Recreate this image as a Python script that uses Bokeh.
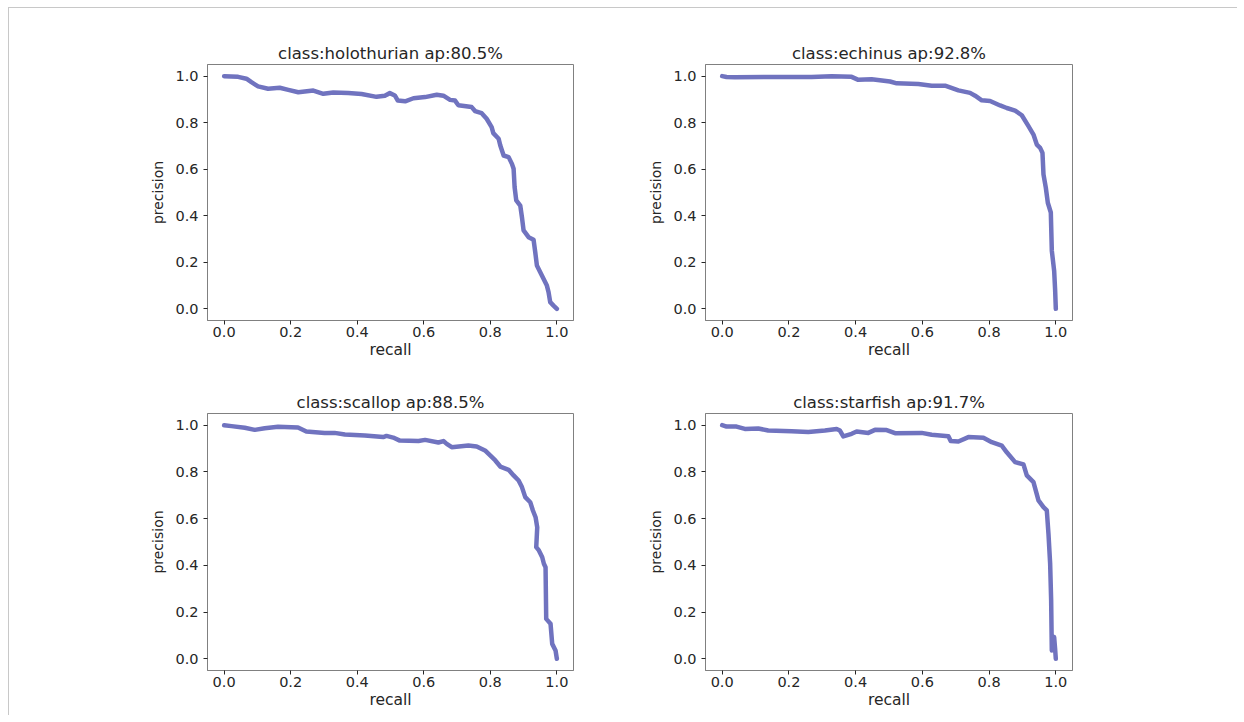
from bokeh.plotting import figure
from bokeh.layouts import column, row
from bokeh.models import Range1d, FixedTicker, NumeralTickFormatter
from bokeh.embed import file_html
from bokeh.resources import INLINE

classes = ["holothurian", "echinus", "scallop", "starfish"]
aps = [80.5, 92.8, 88.5, 91.7]

holothurian_recall = [0.0, 0.042, 0.067, 0.082, 0.102, 0.132, 0.167, 0.193, 0.223, 0.268, 0.298, 0.328, 0.373, 0.413, 0.458, 0.483, 0.498, 0.513, 0.522, 0.544, 0.569, 0.604, 0.639, 0.659, 0.679, 0.694, 0.704, 0.744, 0.754, 0.774, 0.789, 0.804, 0.809, 0.825, 0.830, 0.840, 0.855, 0.865, 0.870, 0.873, 0.878, 0.890, 0.895, 0.900, 0.915, 0.930, 0.935, 0.940, 0.955, 0.970, 0.975, 0.980, 0.990, 1.0]
holothurian_precision = [1.0, 0.997, 0.989, 0.974, 0.956, 0.946, 0.950, 0.941, 0.931, 0.938, 0.924, 0.930, 0.928, 0.923, 0.911, 0.916, 0.927, 0.917, 0.895, 0.892, 0.905, 0.910, 0.920, 0.916, 0.898, 0.895, 0.875, 0.867, 0.850, 0.841, 0.817, 0.781, 0.755, 0.731, 0.702, 0.659, 0.652, 0.623, 0.602, 0.523, 0.466, 0.444, 0.394, 0.337, 0.308, 0.297, 0.244, 0.186, 0.143, 0.100, 0.072, 0.029, 0.014, 0.0]

echinus_recall = [0.0, 0.013, 0.038, 0.138, 0.268, 0.328, 0.388, 0.408, 0.448, 0.503, 0.523, 0.588, 0.628, 0.668, 0.708, 0.743, 0.758, 0.778, 0.803, 0.833, 0.853, 0.878, 0.898, 0.918, 0.933, 0.943, 0.953, 0.960, 0.963, 0.970, 0.976, 0.985, 0.988, 0.995, 0.998, 1.0]
echinus_precision = [1.0, 0.996, 0.995, 0.996, 0.996, 1.0, 0.997, 0.984, 0.987, 0.977, 0.969, 0.966, 0.959, 0.959, 0.939, 0.928, 0.916, 0.896, 0.893, 0.874, 0.863, 0.852, 0.832, 0.785, 0.749, 0.706, 0.692, 0.670, 0.578, 0.521, 0.456, 0.414, 0.250, 0.164, 0.078, 0.0]

scallop_recall = [0.0, 0.022, 0.062, 0.092, 0.122, 0.162, 0.222, 0.247, 0.302, 0.332, 0.363, 0.423, 0.478, 0.488, 0.508, 0.528, 0.584, 0.604, 0.644, 0.659, 0.669, 0.684, 0.734, 0.759, 0.784, 0.805, 0.815, 0.830, 0.855, 0.870, 0.885, 0.895, 0.905, 0.920, 0.928, 0.936, 0.941, 0.938, 0.946, 0.956, 0.961, 0.966, 0.968, 0.981, 0.986, 0.996, 1.0]
scallop_precision = [1.0, 0.996, 0.989, 0.980, 0.987, 0.993, 0.990, 0.973, 0.967, 0.967, 0.960, 0.956, 0.949, 0.954, 0.947, 0.934, 0.932, 0.937, 0.926, 0.932, 0.920, 0.906, 0.913, 0.909, 0.892, 0.863, 0.849, 0.823, 0.809, 0.785, 0.763, 0.735, 0.692, 0.670, 0.635, 0.606, 0.563, 0.478, 0.464, 0.435, 0.407, 0.392, 0.171, 0.150, 0.064, 0.036, 0.0]

starfish_recall = [0.0, 0.013, 0.043, 0.068, 0.108, 0.138, 0.208, 0.258, 0.308, 0.343, 0.353, 0.363, 0.388, 0.403, 0.438, 0.458, 0.493, 0.518, 0.598, 0.628, 0.678, 0.685, 0.708, 0.738, 0.783, 0.808, 0.838, 0.853, 0.878, 0.903, 0.913, 0.933, 0.948, 0.963, 0.973, 0.978, 0.983, 0.986, 0.988, 0.995, 0.998, 1.0]
starfish_precision = [1.0, 0.994, 0.994, 0.984, 0.986, 0.977, 0.974, 0.971, 0.977, 0.984, 0.977, 0.952, 0.963, 0.973, 0.967, 0.980, 0.979, 0.966, 0.967, 0.959, 0.953, 0.932, 0.930, 0.949, 0.946, 0.927, 0.912, 0.884, 0.842, 0.832, 0.785, 0.756, 0.678, 0.649, 0.635, 0.535, 0.407, 0.250, 0.036, 0.093, 0.040, 0.0]

tick_values = [0.0, 0.2, 0.4, 0.6, 0.8, 1.0]

recalls = [holothurian_recall, echinus_recall, scallop_recall, starfish_recall]
precisions = [holothurian_precision, echinus_precision, scallop_precision, starfish_precision]

LINE = "#7073bf"
TEXT = "#262626"
SPINE = "#808080"
FONT = "DejaVu Sans"


def make(i, width, height, bl, br, bt, bb):
    p = figure(width=width, height=height, output_backend="svg", toolbar_location=None,
               x_range=Range1d(-0.05, 1.05), y_range=Range1d(-0.05, 1.05),
               min_border_left=bl, min_border_right=br, min_border_top=bt, min_border_bottom=bb,
               title="class:%s ap:%.1f%%" % (classes[i], aps[i]))
    p.line(recalls[i], precisions[i], line_color=LINE, line_width=4.5, line_join="round", line_cap="round")
    p.title.align = "center"
    p.title.text_font = FONT
    p.title.text_font_size = "16.5px"
    p.title.text_font_style = "normal"
    p.title.text_color = TEXT
    p.title.standoff = 4
    p.xgrid.visible = False
    p.ygrid.visible = False
    p.outline_line_color = SPINE
    p.outline_line_width = 1
    p.outline_line_alpha = 1
    for ax, lab in ((p.xaxis[0], "recall"), (p.yaxis[0], "precision")):
        ax.axis_label = lab
        ax.ticker = FixedTicker(ticks=tick_values)
        ax.formatter = NumeralTickFormatter(format="0.0")
        ax.minor_tick_line_color = None
        ax.major_tick_in = 0
        ax.major_tick_out = 4
        ax.major_tick_line_color = TEXT
        ax.axis_line_color = SPINE
        ax.major_label_text_font = FONT
        ax.major_label_text_font_size = "14.5px"
        ax.major_label_text_color = TEXT
        ax.axis_label_text_font = FONT
        ax.axis_label_text_font_style = "normal"
        ax.axis_label_text_color = TEXT
    p.xaxis[0].axis_label_text_font_size = "15.5px"
    p.yaxis[0].axis_label_text_font_size = "14px"
    p.xaxis[0].major_label_standoff = 2
    p.xaxis[0].axis_label_standoff = 1
    p.yaxis[0].major_label_standoff = 5
    p.yaxis[0].axis_label_standoff = 6
    p.yaxis[0].major_label_orientation = "horizontal"
    return p


p1 = make(0, 632, 357, 198, 68, 56, 45)
p2 = make(1, 596, 357, 64, 165, 56, 45)
p3 = make(2, 632, 350, 198, 68, 48, 45)
p4 = make(3, 596, 350, 64, 165, 48, 45)

layout = column(row(p1, p2), row(p3, p4), margin=(7, 0, 0, 8),
                styles={"border-top": "1px solid #c8c8c8", "border-left": "1px solid #c8c8c8"})

open("out.html", "w").write(file_html(layout, INLINE))
